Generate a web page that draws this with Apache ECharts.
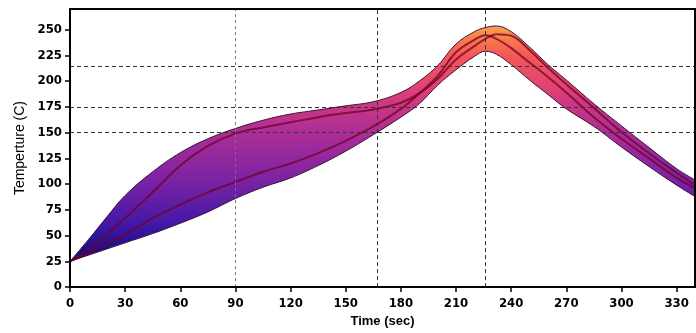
<!DOCTYPE html>
<html>
<head>
<meta charset="utf-8">
<script src="https://cdn.jsdelivr.net/npm/echarts@6/dist/echarts.min.js"></script>
<style>
  html, body { margin: 0; padding: 0; background: #fff; }
  #chart { width: 696px; height: 333px; }
</style>
</head>
<body>
<div id="chart"></div>
<script>
// sample times (sec)
const times = [0, 10, 20, 30, 45, 60, 75, 90, 105, 120, 135, 150, 165, 180, 190, 200, 210, 220, 226, 232, 240, 250, 260, 270, 285, 300, 315, 330, 340];
// process window edges (C)
const upperLimit = [25, 46, 68, 89, 112, 130.5, 144, 154, 162, 168, 172, 176, 180, 189, 200, 215, 236, 248, 252, 253.5, 248, 233, 216, 201, 178, 156.5, 135.5, 115, 104];
const lowerLimit = [25, 31, 37, 43, 52, 62, 73, 86, 97, 106, 118, 132, 148, 165, 178, 196, 211, 224, 229, 226, 216, 201, 187, 173, 156, 136, 117, 99, 88];
// measured profiles
const profileFast = [25, 37, 51, 67, 92, 118, 137, 149, 155, 160, 165, 169, 172.5, 179, 188, 202, 221, 234, 241, 245.5, 244, 230, 213, 197, 174, 150.5, 130, 111, 99];
const profileSlow = [25, 33, 42, 51, 67, 80, 92, 102, 112, 120, 130, 142, 156, 173, 188, 205, 228, 240, 244.5, 241, 232, 218, 204, 189, 165, 144, 125, 106, 96];
// reference markers
const timeMarkers = [90, 167, 226];
const tempMarkers = [150, 175, 214];

const chart = echarts.init(document.getElementById("chart"));

const labelFont = {
  color: "#000",
  fontWeight: "bold",
  fontSize: 13,
  fontFamily: "'Liberation Sans Narrow', 'DejaVu Sans Condensed', Arial, sans-serif",
};

const upperPts = times.map((t, i) => [t, upperLimit[i]]);
const lowerPts = times.map((t, i) => [t, lowerLimit[i]]);
const fastPts = times.map((t, i) => [t, profileFast[i]]);
const slowPts = times.map((t, i) => [t, profileSlow[i]]);

// upper area fills down to 0, the lower area paints it white again
const bandGradient = new echarts.graphic.LinearGradient(0, 0, 0, 1, [
  { offset: 0, color: "#f9a24c" },
  { offset: 0.054, color: "#f7784a" },
  { offset: 0.117, color: "#f25658" },
  { offset: 0.216, color: "#e4466e" },
  { offset: 0.306, color: "#c93784" },
  { offset: 0.405, color: "#ad2e96" },
  { offset: 0.604, color: "#7622a4" },
  { offset: 0.757, color: "#4418a6" },
  { offset: 0.9, color: "#0a0a7e" },
  { offset: 1, color: "#0a0a7e" },
]);

const dashStyle = { color: "#333", type: [4, 3], width: 1 };
const edgeStyle = { color: "#3a1438", width: 1 };

chart.setOption({
  animation: false,
  backgroundColor: "#fff",
  grid: {
    left: 70,
    right: 1,
    top: 9,
    bottom: 44,
    show: true,
    z: 10,
    borderColor: "#000",
    borderWidth: 2,
  },
  xAxis: {
    type: "value",
    z: 10,
    min: 0,
    max: 340,
    interval: 30,
    name: "Time (sec)",
    nameLocation: "middle",
    nameGap: 27,
    nameTextStyle: { ...labelFont, fontFamily: "'Liberation Sans', Arial, sans-serif", fontSize: 13 },
    axisLine: { lineStyle: { color: "#000", width: 2 } },
    axisTick: { inside: false, length: 5, lineStyle: { color: "#000", width: 1.5 } },
    axisLabel: { ...labelFont, margin: 10, showMaxLabel: false },
    splitLine: { show: false },
  },
  yAxis: {
    type: "value",
    z: 10,
    min: 0,
    max: 270,
    interval: 25,
    name: "Temperture (C)",
    nameLocation: "middle",
    nameGap: 40,
    nameTextStyle: { color: "#000", fontSize: 14, fontFamily: "'Liberation Sans', Arial, sans-serif" },
    axisLine: { lineStyle: { color: "#000", width: 2 } },
    axisTick: { inside: false, length: 5, lineStyle: { color: "#000", width: 1.5 } },
    axisLabel: { ...labelFont, margin: 8, showMaxLabel: false },
    splitLine: { show: false },
  },
  series: [
    {
      type: "line",
      data: upperPts,
      smooth: 0.4,
      showSymbol: false,
      lineStyle: edgeStyle,
      areaStyle: { color: bandGradient, opacity: 1, origin: "start" },
      z: 2,
    },
    {
      type: "line",
      data: lowerPts,
      smooth: 0.4,
      showSymbol: false,
      lineStyle: edgeStyle,
      areaStyle: { color: "#fff", opacity: 1, origin: "start" },
      z: 3,
    },
    {
      type: "line",
      data: fastPts,
      smooth: 0.4,
      showSymbol: false,
      lineStyle: { color: "rgba(115,0,40,0.75)", width: 2 },
      z: 4,
    },
    {
      type: "line",
      data: slowPts,
      smooth: 0.4,
      showSymbol: false,
      lineStyle: { color: "rgba(115,0,40,0.75)", width: 2 },
      z: 4,
    },
    {
      type: "line",
      data: [],
      z: 5,
      markLine: {
        silent: true,
        symbol: "none",
        label: { show: false },
        lineStyle: dashStyle,
        data: [
          ...timeMarkers.map((t, i) => ({
            xAxis: t,
            lineStyle: i === 0 ? { color: "#777", type: [3, 3] } : {},
          })),
          ...tempMarkers.map((v) => ({ yAxis: v })),
        ],
      },
    },
  ],
});
</script>
</body>
</html>
